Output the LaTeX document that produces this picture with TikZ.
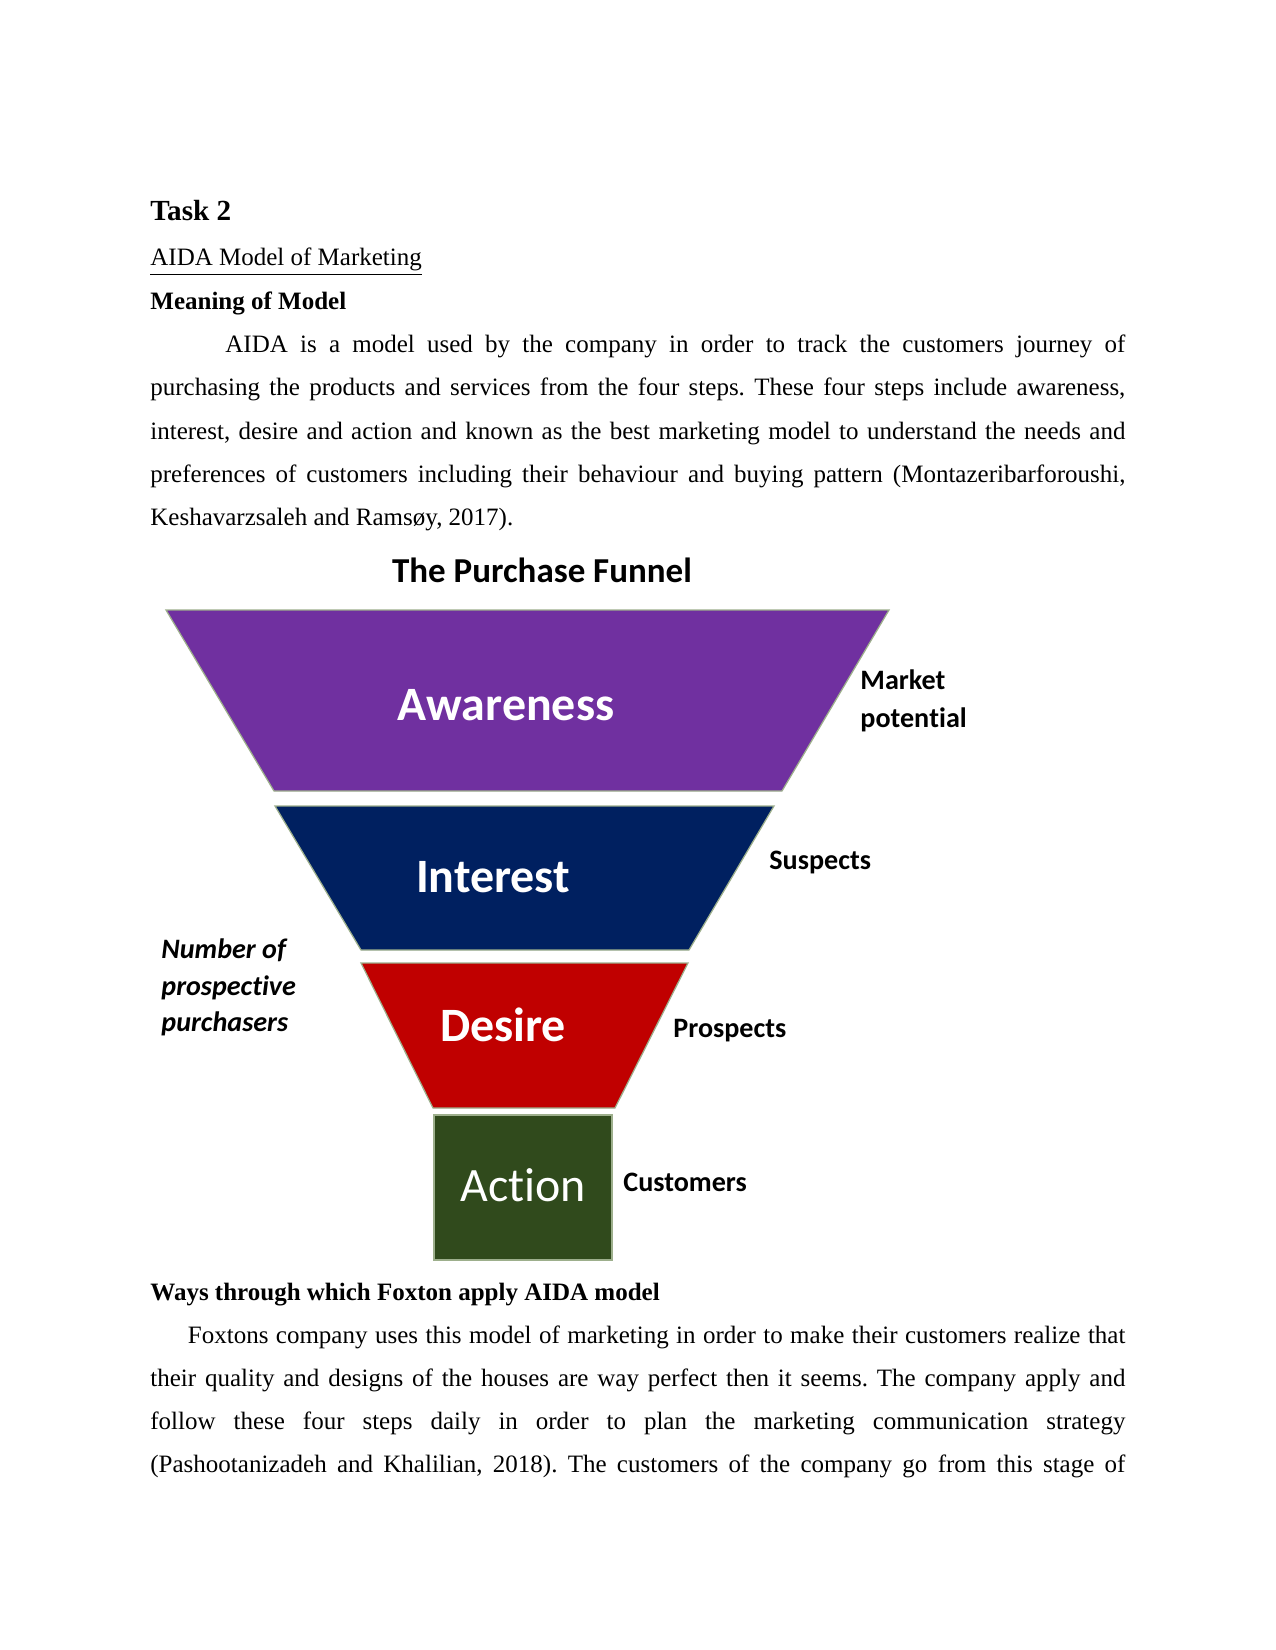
\documentclass[tikz,border=0pt]{standalone}
\usepackage{fontspec}
\setmainfont{Liberation Serif}
\newfontfamily\calfont[Ligatures=NoCommon]{Carlito}
\definecolor{awcol}{HTML}{7030A0}
\definecolor{incol}{HTML}{002060}
\definecolor{decol}{HTML}{C00000}
\definecolor{accol}{HTML}{304A1C}
\definecolor{edgegreen}{HTML}{9DAF8C}
\newcommand{\jl}[1]{\hbox to 468pt{#1}}
\frenchspacing
\begin{document}
\begin{tikzpicture}[x=0.48pt,y=-0.48pt,
  body/.style={anchor=base west,inner sep=0pt,font=\fontsize{12}{14}\selectfont},
  stagebox/.style={draw=edgegreen,line width=0.6pt},
  stagelabel/.style={anchor=base,inner sep=0pt,text=white,font=\calfont\bfseries\fontsize{23}{26}\selectfont},
  sidelabel/.style={anchor=base west,inner sep=0pt,font=\calfont\bfseries\fontsize{13.5}{16}\selectfont}]
\useasboundingbox[fill=white] (0,0) rectangle (1275,1650);

% headings and first paragraph
\node[body,font=\bfseries\fontsize{14}{16}\selectfont] (task) at (150,221) {Task 2};
\node[body] (aidahead) at (150,266) {\underline{AIDA Model of Marketing}};
\node[body,font=\bfseries\fontsize{12}{14}\selectfont] (meaning) at (150,310) {Meaning of Model};
\node[body] (p1a) at (150,353) {\jl{\hskip 36pt AIDA is a model used by the company in order to track the customers journey of}};
\node[body] (p1b) at (150,396) {\jl{purchasing the products and services from the four steps. These four steps include awareness,}};
\node[body] (p1c) at (150,439) {\jl{interest, desire and action and known as the best marketing model to understand the needs and}};
\node[body] (p1d) at (150,482) {\jl{preferences of customers including their behaviour and buying pattern (Montazeribarforoushi,}};
\node[body] (p1e) at (150,525) {Keshavarzsaleh and Ramsøy, 2017).};

% funnel
\node[anchor=base,inner sep=0pt,font=\calfont\bfseries\fontsize{16.8}{19}\selectfont] (title) at (542,582) {The Purchase Funnel};
\fill[awcol,stagebox] (166,610) -- (889,610) -- (782,791) -- (274,791) -- cycle;
\fill[incol,stagebox] (275,806) -- (774,806) -- (689,950) -- (361,950) -- cycle;
\fill[decol,stagebox] (361,963) -- (688,963) -- (615,1108) -- (433,1108) -- cycle;
\fill[accol,stagebox] (434,1115) rectangle (612,1260);
\node[stagelabel] (aw) at (506,720) {Awareness};
\node[stagelabel] (in) at (493,892) {Interest};
\node[stagelabel] (de) at (503,1041) {Desire};
\node[stagelabel,font=\calfont\fontsize{23}{26}\selectfont] (ac) at (523,1201) {Ac\kern0pt tion};

\node[sidelabel] (mk1) at (860,689) {Market};
\node[sidelabel] (mk2) at (860,727) {poten\kern0pt tial};
\node[sidelabel] (sus) at (769,869) {Suspects};
\node[sidelabel] (pro) at (673,1037) {Prospects};
\node[sidelabel] (cus) at (623,1191) {Customers};
\node[sidelabel,font=\calfont\bfseries\itshape\fontsize{13.5}{16}\selectfont] (nb1) at (161,958) {Number of};
\node[sidelabel,font=\calfont\bfseries\itshape\fontsize{13.5}{16}\selectfont] (nb2) at (161,995) {prospec\kern0pt tive};
\node[sidelabel,font=\calfont\bfseries\itshape\fontsize{13.5}{16}\selectfont] (nb3) at (161,1031) {purchasers};

% second section
\node[body,font=\bfseries\fontsize{12}{14}\selectfont] (ways) at (150,1300) {Ways through which Foxton apply AIDA model};
\node[body] (p2a) at (150,1343) {\jl{\hskip 18pt Foxtons company uses this model of marketing in order to make their customers realize that}};
\node[body] (p2b) at (150,1386) {\jl{their quality and designs of the houses are way perfect then it seems. The company apply and}};
\node[body] (p2c) at (150,1429) {\jl{follow these four steps daily in order to plan the marketing communication strategy}};
\node[body] (p2d) at (150,1472) {\jl{(Pashootanizadeh and Khalilian, 2018). The customers of the company go from this stage of}};
\end{tikzpicture}
\end{document}
